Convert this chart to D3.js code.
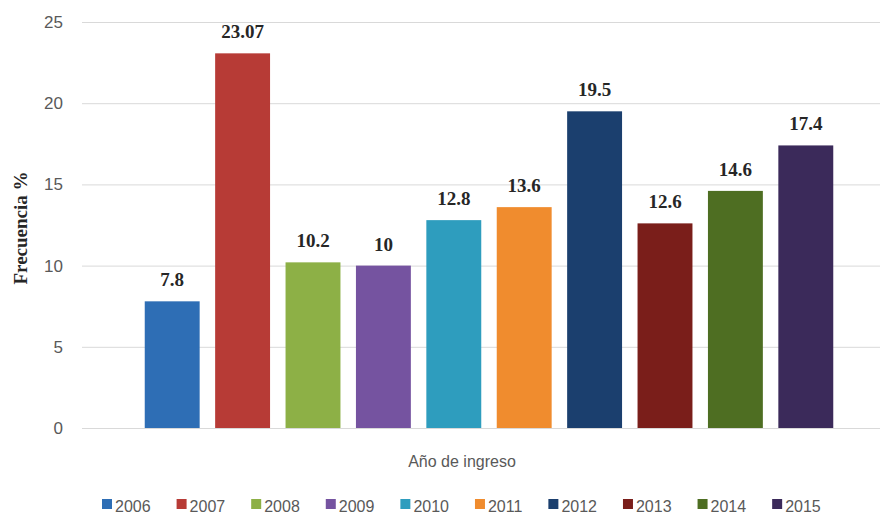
<!DOCTYPE html>
<html>
<head>
<meta charset="utf-8">
<script src="https://cdn.jsdelivr.net/npm/d3@7"></script>
<style>
  html,body{margin:0;padding:0;background:#fff;}
  svg{display:block;}
</style>
</head>
<body>
<svg id="chart" width="880" height="516"></svg>
<script>
// datos
const years=['2006','2007','2008','2009','2010','2011','2012','2013','2014','2015']
const values=[7.8,23.07,10.2,10,12.8,13.6,19.5,12.6,14.6,17.4]
const colors=['#2e6eb5','#b73b36','#8db046','#7553a0','#2e9dbe','#f08c2e','#1b3f6e','#7a1e1a','#4e6e22','#3b2a5a']
const yTicks=[0,5,10,15,20,25]
const xTitle='Año de ingreso'
const yTitle='Frecuencia %'

const svg=d3.select('#chart')
const grey='#595959'
const sans='"Liberation Sans", Arial, sans-serif'
const serif='"Liberation Serif", "Times New Roman", serif'

const y=d3.scaleLinear().domain([0,25]).range([428,22])
const x=d3.scaleBand().domain(years).range([137,841]).paddingInner(0.22).paddingOuter(0.11)

// lineas de la cuadricula
const axisY=d3.axisLeft(y).tickValues(yTicks).tickSize(-(880-82)).tickPadding(19)
const gy=svg.append('g')
  .attr('transform','translate(82,0)')
  .call(axisY)
gy.select('.domain').remove()
gy.selectAll('.tick line').attr('stroke','#d9d9d9').attr('stroke-width',1)
gy.selectAll('.tick text')
  .attr('fill',grey)
  .attr('font-family',sans)
  .attr('font-size',17)

// barras
svg.selectAll('rect.bar')
  .data(years)
  .enter()
  .append('rect')
  .attr('class','bar')
  .attr('x',d=>x(d))
  .attr('y',(d,i)=>y(values[i]))
  .attr('width',x.bandwidth())
  .attr('height',(d,i)=>y(0)-y(values[i]))
  .attr('fill',(d,i)=>colors[i])

// etiquetas de valor
svg.selectAll('text.val')
  .data(years)
  .enter()
  .append('text')
  .attr('class','val')
  .attr('x',d=>x(d)+x.bandwidth()/2)
  .attr('y',(d,i)=>y(values[i])-15)
  .attr('text-anchor','middle')
  .attr('font-family',serif)
  .attr('font-weight','bold')
  .attr('font-size',19)
  .attr('fill','#262626')
  .text((d,i)=>values[i])

// titulos de ejes
svg.append('text')
  .attr('x',462)
  .attr('y',467)
  .attr('text-anchor','middle')
  .attr('font-family',sans)
  .attr('font-size',16)
  .attr('fill',grey)
  .text(xTitle)

svg.append('text')
  .attr('transform','translate(27,228) rotate(-90)')
  .attr('text-anchor','middle')
  .attr('font-family',serif)
  .attr('font-weight','bold')
  .attr('font-size',19)
  .attr('fill','#262626')
  .text(yTitle)

// leyenda
const legend=svg.append('g')
let lx=102
years.forEach((yr,i)=>{
  const g=legend.append('g').attr('transform',`translate(${lx},0)`)
  g.append('rect')
    .attr('x',0).attr('y',499)
    .attr('width',10).attr('height',10)
    .attr('fill',colors[i])
  const t=g.append('text')
    .attr('x',13).attr('y',512)
    .attr('font-family',sans)
    .attr('font-size',16)
    .attr('fill',grey)
    .text(yr)
  lx+=13+t.node().getComputedTextLength()+26
})
</script>
</body>
</html>
